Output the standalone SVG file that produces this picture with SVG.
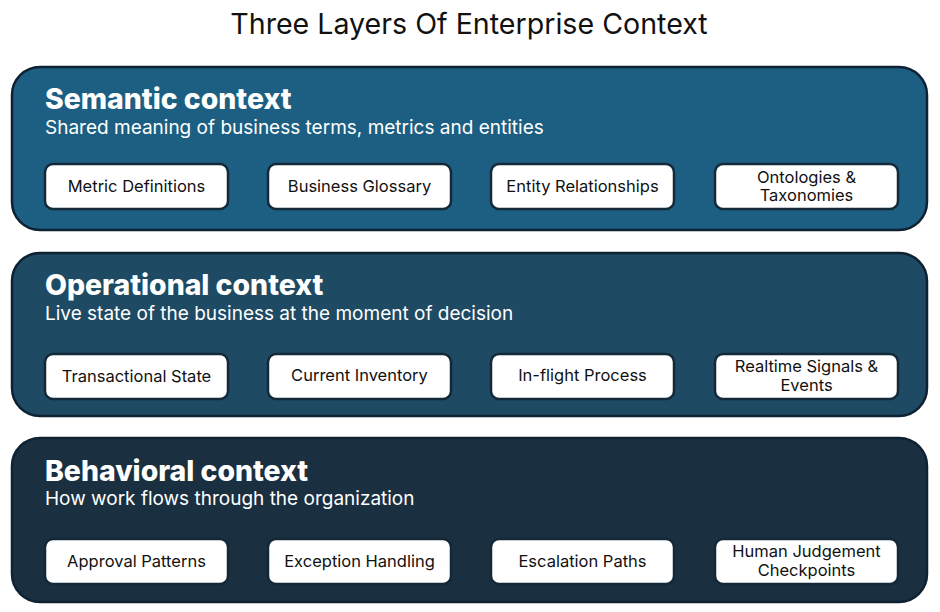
<svg xmlns="http://www.w3.org/2000/svg" width="940" height="612" viewBox="0 0 940 612">
<style>
.title{font-family:Inter,"Noto Sans",sans-serif;font-size:28.6px;fill:#111;text-anchor:middle}
.h{font-family:Inter,"Noto Sans",sans-serif;font-size:28.4px;font-weight:800;fill:#fff}
.sub{font-family:Inter,"Noto Sans",sans-serif;font-size:19px;fill:#fff}
.panel{stroke:#0e2233;stroke-width:2.5}
.box{fill:#fff;stroke:#13293a;stroke-width:2.5}
.t{font-family:Inter,"Noto Sans",sans-serif;font-size:16.5px;fill:#111;text-anchor:middle}
</style>
<rect width="940" height="612" fill="#fff"/>
<text class="title" x="469" y="34">Three Layers Of Enterprise Context</text>

<g id="semantic">
<rect class="panel" x="12" y="67" width="915" height="163" rx="28" fill="#1c5f82"/>
<text class="h" x="45" y="109">Semantic context</text>
<text class="sub" x="45" y="134">Shared meaning of business terms, metrics and entities</text>
</g>
<g id="metric-definitions"><rect class="box" x="45" y="164" width="183" height="45" rx="8"/><text class="t" x="136.5" y="192">Metric Definitions</text></g>
<g id="business-glossary"><rect class="box" x="268" y="164" width="183" height="45" rx="8"/><text class="t" x="359.5" y="192">Business Glossary</text></g>
<g id="entity-relationships"><rect class="box" x="491" y="164" width="183" height="45" rx="8"/><text class="t" x="582.5" y="192">Entity Relationships</text></g>
<g id="ontologies"><rect class="box" x="715" y="164" width="183" height="45" rx="8"/><text class="t" x="806.5" y="182.5">Ontologies &amp;</text><text class="t" x="806.5" y="201">Taxonomies</text></g>

<g id="operational">
<rect class="panel" x="12" y="253" width="915" height="163" rx="28" fill="#1e4a63"/>
<text class="h" x="45" y="295">Operational context</text>
<text class="sub" x="45" y="320">Live state of the business at the moment of decision</text>
</g>
<g id="transactional-state"><rect class="box" x="45" y="354" width="183" height="45" rx="8"/><text class="t" x="136.5" y="382">Transactional State</text></g>
<g id="current-inventory"><rect class="box" x="268" y="354" width="183" height="45" rx="8"/><text class="t" x="359.5" y="381">Current Inventory</text></g>
<g id="inflight-process"><rect class="box" x="491" y="354" width="183" height="45" rx="8"/><text class="t" x="582.5" y="381">In-flight Process</text></g>
<g id="realtime-signals"><rect class="box" x="715" y="354" width="183" height="45" rx="8"/><text class="t" x="806.5" y="372">Realtime Signals &amp;</text><text class="t" x="806.5" y="390.5">Events</text></g>

<g id="behavioral">
<rect class="panel" x="12" y="438" width="915" height="164" rx="28" fill="#1a2f40"/>
<text class="h" x="45" y="481">Behavioral context</text>
<text class="sub" x="45" y="505">How work flows through the organization</text>
</g>
<g id="approval-patterns"><rect class="box" x="45" y="539" width="183" height="45" rx="8"/><text class="t" x="136.5" y="567">Approval Patterns</text></g>
<g id="exception-handling"><rect class="box" x="268" y="539" width="183" height="45" rx="8"/><text class="t" x="359.5" y="567">Exception Handling</text></g>
<g id="escalation-paths"><rect class="box" x="491" y="539" width="183" height="45" rx="8"/><text class="t" x="582.5" y="567">Escalation Paths</text></g>
<g id="human-judgement"><rect class="box" x="715" y="539" width="183" height="45" rx="8"/><text class="t" x="806.5" y="557">Human Judgement</text><text class="t" x="806.5" y="575.5">Checkpoints</text></g>

<g id="connectors"></g>
</svg>
